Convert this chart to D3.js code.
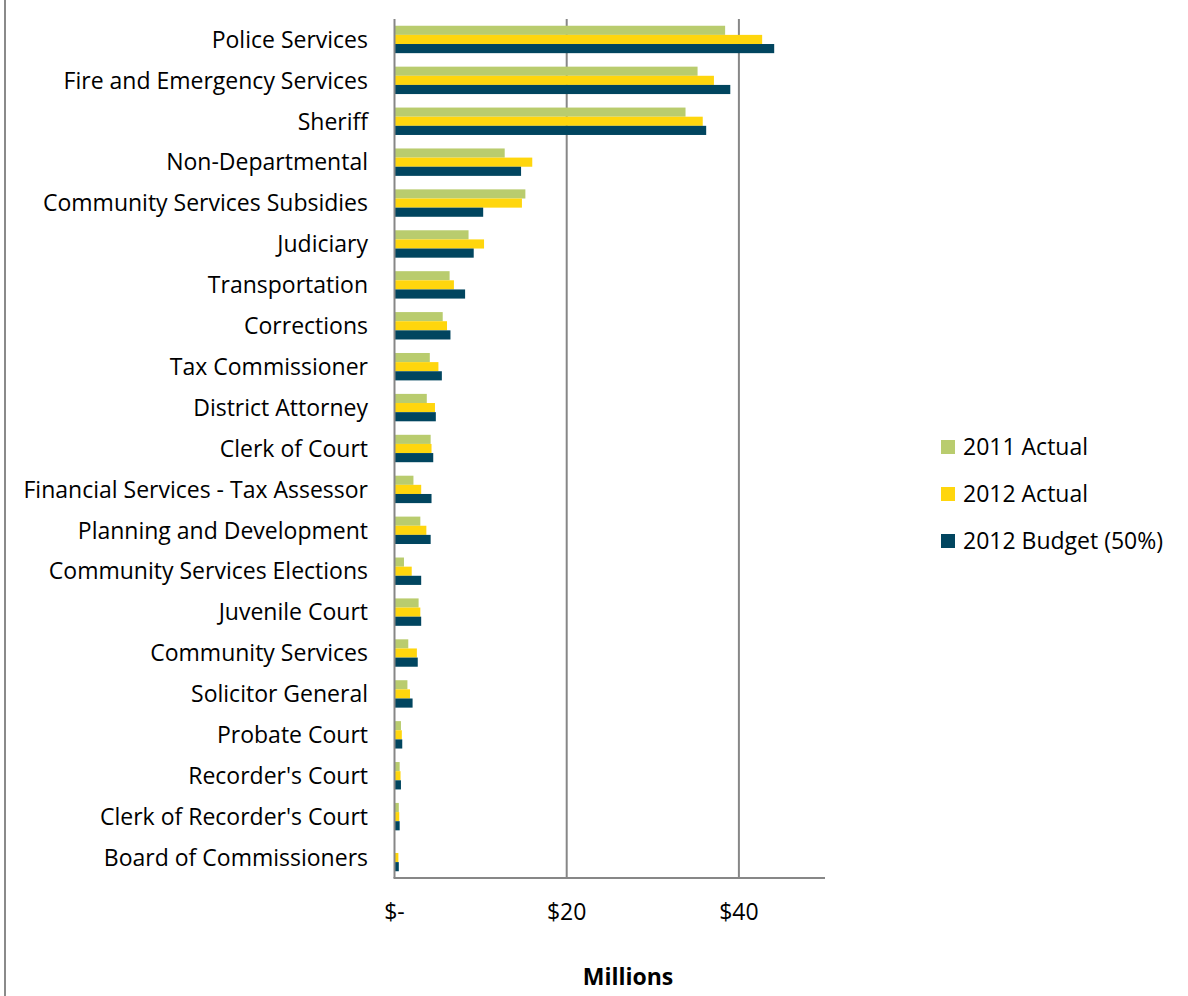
<!DOCTYPE html>
<html>
<head>
<meta charset="utf-8">
<script src="https://cdn.jsdelivr.net/npm/d3@7"></script>
<style>
  html, body { margin: 0; padding: 0; background: #fff; }
  svg { display: block; }
  text { font-family: "Open Sans", Lato, sans-serif; fill: #000; }
</style>
</head>
<body>
<script>
// Departments, top to bottom
const departments = [
  "Police Services",
  "Fire and Emergency Services",
  "Sheriff",
  "Non-Departmental",
  "Community Services Subsidies",
  "Judiciary",
  "Transportation",
  "Corrections",
  "Tax Commissioner",
  "District Attorney",
  "Clerk of Court",
  "Financial Services - Tax Assessor",
  "Planning and Development",
  "Community Services Elections",
  "Juvenile Court",
  "Community Services",
  "Solicitor General",
  "Probate Court",
  "Recorder's Court",
  "Clerk of Recorder's Court",
  "Board of Commissioners"
];

// Spending in millions of dollars
const actual2011 = [38.4, 35.2, 33.8, 12.8, 15.2, 8.6, 6.4, 5.6, 4.1, 3.75, 4.2, 2.2, 3.0, 1.1, 2.8, 1.6, 1.5, 0.75, 0.6, 0.5, 0.0];
const actual2012 = [42.7, 37.1, 35.8, 16.0, 14.8, 10.4, 6.9, 6.1, 5.1, 4.7, 4.3, 3.1, 3.7, 2.0, 3.0, 2.6, 1.8, 0.85, 0.7, 0.55, 0.45];
const budget2012 = [44.1, 39.0, 36.2, 14.7, 10.3, 9.2, 8.2, 6.5, 5.5, 4.8, 4.5, 4.3, 4.2, 3.1, 3.1, 2.7, 2.1, 0.9, 0.75, 0.6, 0.5];

const seriesNames = ["2011 Actual", "2012 Actual", "2012 Budget (50%)"];
const seriesColors = ["#b9cc6e", "#ffd60d", "#01455f"];
const xTicks = [0, 20, 40];
const xTickLabels = ["$-", "$20", "$40"];
const xTitle = "Millions";

const W = 1188, H = 996;
const plot = { left: 394.5, right: 825, top: 19, bottom: 878 };
const fontSize = 23;
const lineColor = "#878787";

const series = [actual2011, actual2012, budget2012];
const rows = departments.map((d, i) => ({ name: d, values: series.map(s => s[i]) }));

const svg = d3.select("body").append("svg").attr("width", W).attr("height", H);

// Left frame edge
svg.append("line")
  .attr("x1", 5).attr("x2", 5).attr("y1", 0).attr("y2", H)
  .attr("stroke", "#8a8a8a").attr("stroke-width", 2);

const x = d3.scaleLinear().domain([0, 50]).range([plot.left, plot.right]);
const y = d3.scaleBand().domain(departments).range([plot.top, plot.bottom]).paddingInner(0.33).paddingOuter(0.165);
const ySub = d3.scaleBand().domain(d3.range(series.length)).range([0, y.bandwidth()]);

// Vertical gridlines
svg.append("g").selectAll("line")
  .data(xTicks.filter(t => t > 0))
  .join("line")
  .attr("x1", d => x(d)).attr("x2", d => x(d))
  .attr("y1", plot.top).attr("y2", plot.bottom)
  .attr("stroke", lineColor).attr("stroke-width", 2);

// Bars
const groups = svg.append("g").selectAll("g")
  .data(rows)
  .join("g")
  .attr("transform", d => `translate(0,${y(d.name)})`);

groups.selectAll("rect")
  .data(d => d.values.map((v, k) => ({ v, k })))
  .join("rect")
  .attr("x", x(0))
  .attr("y", d => ySub(d.k))
  .attr("width", d => Math.max(0, x(d.v) - x(0)))
  .attr("height", ySub.bandwidth())
  .attr("fill", d => seriesColors[d.k]);

// Axis lines
svg.append("line")
  .attr("x1", plot.left).attr("x2", plot.left)
  .attr("y1", plot.top).attr("y2", plot.bottom)
  .attr("stroke", lineColor).attr("stroke-width", 2);
svg.append("line")
  .attr("x1", plot.left - 1).attr("x2", plot.right)
  .attr("y1", plot.bottom).attr("y2", plot.bottom)
  .attr("stroke", lineColor).attr("stroke-width", 2);

// Category labels
svg.append("g").selectAll("text")
  .data(departments)
  .join("text")
  .attr("x", 368)
  .attr("y", d => y(d) + y.bandwidth() / 2)
  .attr("dy", "0.36em")
  .attr("text-anchor", "end")
  .style("font-size", fontSize + "px")
  .text(d => d);

// X tick labels
svg.append("g").selectAll("text")
  .data(xTicks)
  .join("text")
  .attr("x", d => x(d))
  .attr("y", 920)
  .attr("text-anchor", "middle")
  .style("font-size", fontSize + "px")
  .text((d, i) => xTickLabels[i]);

// X axis title
svg.append("text")
  .attr("x", 628).attr("y", 985)
  .attr("text-anchor", "middle")
  .style("font-size", fontSize + "px")
  .style("font-weight", "bold")
  .text(xTitle);

// Legend
const legend = svg.append("g").selectAll("g")
  .data(seriesNames)
  .join("g")
  .attr("transform", (d, i) => `translate(941,${447 + i * 47})`);
legend.append("rect")
  .attr("x", 0).attr("y", -7).attr("width", 14).attr("height", 14)
  .attr("fill", (d, i) => seriesColors[i]);
legend.append("text")
  .attr("x", 22).attr("y", 0).attr("dy", "0.36em")
  .style("font-size", fontSize + "px")
  .text(d => d);
</script>
</body>
</html>
